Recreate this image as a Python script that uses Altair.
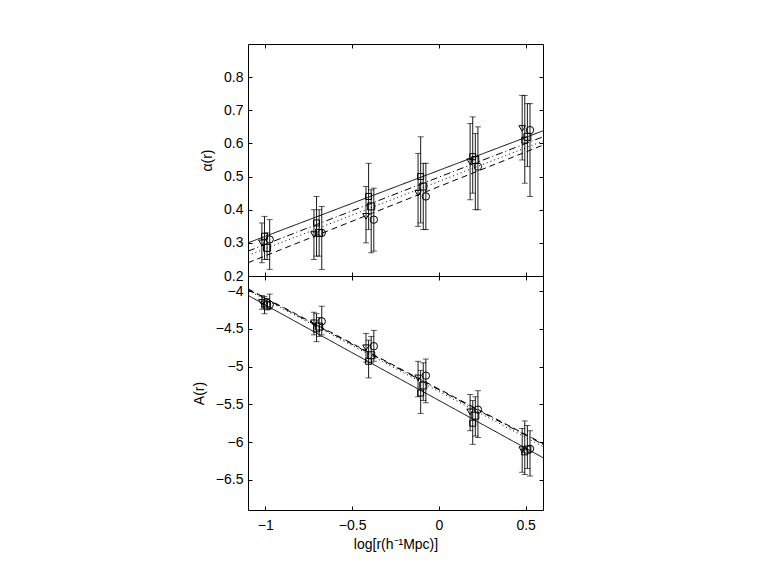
import altair as alt
import pandas as pd

# ---- data ----
series_names = ["sq", "tri", "sq2", "circ"]
x_sq = [-1.005, -0.705, -0.405, -0.105, 0.195, 0.495]
x_tri = [-1.02, -0.72, -0.42, -0.12, 0.18, 0.48]
x_sq2 = [-0.99, -0.69, -0.39, -0.09, 0.21, 0.51]
x_circ = [-0.975, -0.675, -0.375, -0.075, 0.225, 0.525]

# top panel alpha(r)
a_tri = [0.30, 0.325, 0.38, 0.45, 0.545, 0.645]
a_tri_lo = [0.24, 0.25, 0.30, 0.35, 0.43, 0.55]
a_tri_hi = [0.36, 0.40, 0.47, 0.57, 0.66, 0.745]
a_sq = [0.32, 0.36, 0.44, 0.50, 0.56, 0.61]
a_sq_lo = [0.25, 0.26, 0.34, 0.36, 0.45, 0.48]
a_sq_hi = [0.38, 0.44, 0.54, 0.62, 0.68, 0.745]
a_sq2 = [0.285, 0.33, 0.41, 0.47, 0.55, 0.62]
a_sq2_lo = [0.25, 0.26, 0.27, 0.34, 0.40, 0.53]
a_sq2_hi = [0.33, 0.40, 0.46, 0.54, 0.63, 0.72]
a_circ = [0.31, 0.33, 0.37, 0.44, 0.53, 0.64]
a_circ_lo = [0.22, 0.22, 0.275, 0.34, 0.40, 0.44]
a_circ_hi = [0.37, 0.41, 0.465, 0.54, 0.65, 0.72]

# bottom panel A(r)
b_tri = [-4.15, -4.42, -4.75, -5.15, -5.60, -6.10]
b_tri_lo = [-4.24, -4.58, -4.94, -5.40, -5.85, -6.40]
b_tri_hi = [-4.06, -4.28, -4.56, -4.93, -5.37, -5.82]
b_sq = [-4.17, -4.50, -4.93, -5.35, -5.75, -6.13]
b_sq_lo = [-4.30, -4.67, -5.15, -5.62, -6.03, -6.43]
b_sq_hi = [-4.07, -4.30, -4.65, -5.05, -5.45, -5.72]
b_sq2 = [-4.19, -4.47, -4.85, -5.25, -5.65, -6.10]
b_sq2_lo = [-4.25, -4.60, -4.95, -5.45, -5.92, -6.35]
b_sq2_hi = [-4.10, -4.35, -4.60, -4.95, -5.40, -5.78]
b_circ = [-4.18, -4.40, -4.73, -5.12, -5.57, -6.09]
b_circ_lo = [-4.24, -4.58, -4.93, -5.48, -5.94, -6.45]
b_circ_hi = [-4.04, -4.20, -4.52, -4.90, -5.32, -5.85]

# fitted lines (end points at the axis limits)
fit_x = [-1.1, 0.6]
fit_a = {"sq": [0.30, 0.638], "tri": [0.275, 0.62], "sq2": [0.262, 0.607], "circ": [0.24, 0.595]}
fit_b = {"sq": [-4.057, -6.207], "tri": [-3.98, -6.03], "sq2": [-3.99, -6.06], "circ": [-3.97, -6.02]}

x_ticks = [-1, -0.5, 0, 0.5]
a_ticks = [0.2, 0.3, 0.4, 0.5, 0.6, 0.7, 0.8]
b_ticks = [-6.5, -6, -5.5, -5, -4.5, -4]

# ---- tables ----
xs = {"sq": x_sq, "tri": x_tri, "sq2": x_sq2, "circ": x_circ}
top = {"sq": (a_sq, a_sq_lo, a_sq_hi), "tri": (a_tri, a_tri_lo, a_tri_hi),
       "sq2": (a_sq2, a_sq2_lo, a_sq2_hi), "circ": (a_circ, a_circ_lo, a_circ_hi)}
bot = {"sq": (b_sq, b_sq_lo, b_sq_hi), "tri": (b_tri, b_tri_lo, b_tri_hi),
       "sq2": (b_sq2, b_sq2_lo, b_sq2_hi), "circ": (b_circ, b_circ_lo, b_circ_hi)}


def pts(d):
    rows = []
    for s in series_names:
        v, lo, hi = d[s]
        for i in range(len(v)):
            rows.append({"s": s, "x": xs[s][i], "y": v[i], "lo": lo[i], "hi": hi[i]})
    return pd.DataFrame(rows)


def fits(d):
    rows = []
    for s in series_names:
        for i in range(2):
            rows.append({"s": s, "x": fit_x[i], "y": d[s][i]})
    return pd.DataFrame(rows)


W = 295
FONT = "Liberation Sans"
FS = 14

shape_scale = alt.Scale(domain=series_names, range=["square", "triangle-down", "square", "circle"])
size_scale = alt.Scale(domain=series_names, range=[36, 55, 22, 45])
dash_scale = alt.Scale(domain=series_names, range=[[1, 0], [7, 3, 1, 3], [1, 3], [6, 4]])


def panel(d, fd, ydomain, yticks, yfmt, ytitle, H, show_x):
    xscale = alt.Scale(domain=[-1.1, 0.6], nice=False, zero=False)
    yscale = alt.Scale(domain=ydomain, nice=False, zero=False)
    xaxis = alt.Axis(values=x_ticks, format="~g", grid=True, gridDash=[4, H - 8], gridColor="black",
                     gridOpacity=1, gridWidth=1, ticks=False, tickSize=0, domain=False,
                     labels=show_x, labelPadding=8, labelFontSize=FS, labelOverlap=False,
                     title="log[r(h⁻¹Mpc)]" if show_x else None, titleFontSize=FS,
                     titleFontWeight="normal", titlePadding=5, labelFlush=False)
    yaxis = alt.Axis(values=yticks, format=yfmt, grid=True, gridDash=[4, W - 8], gridColor="black",
                     gridOpacity=1, gridWidth=1, ticks=False, tickSize=0, domain=False,
                     labelPadding=5, labelFontSize=FS, labelOverlap=False, title=ytitle,
                     titleFontSize=FS, titleFontWeight="normal", titlePadding=9, labelFlush=False)

    def X():
        return alt.X("x:Q", scale=xscale, axis=xaxis)

    def Y(f):
        return alt.Y(f + ":Q", scale=yscale, axis=yaxis)

    base = alt.Chart(pts(d))
    rules = base.mark_rule(color="black", strokeWidth=0.9).encode(
        x=X(), y=Y("lo"), y2="hi:Q")
    cap_lo = base.mark_tick(orient="horizontal", size=6, thickness=0.9, color="black").encode(
        x=X(), y=Y("lo"))
    cap_hi = base.mark_tick(orient="horizontal", size=6, thickness=0.9, color="black").encode(
        x=X(), y=Y("hi"))
    points = base.mark_point(filled=False, color="black", strokeWidth=1, opacity=1).encode(
        x=X(), y=Y("y"),
        shape=alt.Shape("s:N", scale=shape_scale, legend=None),
        size=alt.Size("s:N", scale=size_scale, legend=None))
    lines = alt.Chart(fits(fd)).mark_line(color="black", strokeWidth=1, clip=True).encode(
        x=X(), y=Y("y"),
        strokeDash=alt.StrokeDash("s:N", scale=dash_scale, legend=None),
        detail="s:N")
    return alt.layer(rules, cap_lo, cap_hi, points, lines).properties(width=W, height=H)


p_top = panel(top, fit_a, [0.2, 0.9], a_ticks, ".1f", "α(r)", 232, False)
p_bot = panel(bot, fit_b, [-6.9, -3.8], b_ticks, "~g", "A(r)", 234, True)

chart = alt.vconcat(p_top, p_bot, spacing=0, bounds="flush").properties(
    padding={"left": 183, "top": 35, "right": 5, "bottom": 5},
    background="white"
).configure_view(stroke="black", strokeWidth=1).configure_axis(
    labelFont=FONT, titleFont=FONT, labelColor="black", titleColor="black"
)

chart.save("out.html", embed_options={"renderer": "svg", "actions": False})
